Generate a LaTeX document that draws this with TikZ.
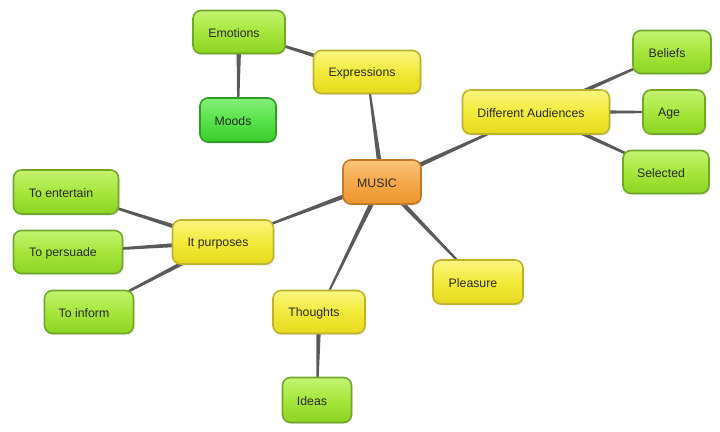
\documentclass[tikz,border=0pt]{standalone}
\usepackage{fontspec}
\setmainfont{Liberation Sans}
\usetikzlibrary{calc,shadows}
\pgfdeclarelayer{bg}
\pgfsetlayers{bg,main}
\definecolor{conncol}{HTML}{5A5A5A}
\definecolor{txtcol}{HTML}{2A2A2A}
\tikzset{
  box/.style={rounded corners=8pt, line width=1.6pt, inner sep=0pt,
    drop shadow={opacity=0.18, shadow xshift=1pt, shadow yshift=-1.5pt}},
  yellowbox/.style={box, draw=ybord, top color=ytop, bottom color=ybot, middle color=ymid},
  greenbox/.style={box, draw=gbord, top color=gtop, bottom color=gbot, middle color=gmid},
  mintbox/.style={box, draw=mbord, top color=mtop, bottom color=mbot, middle color=mmid},
  orangebox/.style={box, draw=obord, top color=otop, bottom color=obot, middle color=omid},
  txt/.style={font=\fontsize{12.3}{14}\selectfont, text=txtcol, inner sep=0pt, xshift=-5pt, yshift=-1.5pt},
  conn/.style={fill=conncol},
}
\definecolor{ytop}{HTML}{FAF680}
\definecolor{ymid}{HTML}{F2EA3A}
\definecolor{ybot}{HTML}{E6DA1C}
\definecolor{ybord}{HTML}{BDB22E}
\definecolor{gtop}{HTML}{C4F472}
\definecolor{gmid}{HTML}{A6E63C}
\definecolor{gbot}{HTML}{8CD422}
\definecolor{gbord}{HTML}{72A82A}
\definecolor{mtop}{HTML}{86F07A}
\definecolor{mmid}{HTML}{58E24A}
\definecolor{mbot}{HTML}{3ACC2C}
\definecolor{mbord}{HTML}{2E9E26}
\definecolor{otop}{HTML}{FAC47C}
\definecolor{omid}{HTML}{F4A84A}
\definecolor{obot}{HTML}{EC962E}
\definecolor{obord}{HTML}{C27A2A}
\newcommand\taper[2]{\fill[conn] ($(#1)!2.6pt!90:(#2)$) -- ($(#2)!0.7pt!-90:(#1)$) -- ($(#2)!0.7pt!90:(#1)$) -- ($(#1)!2.6pt!-90:(#2)$) -- cycle;}
\begin{document}
\begin{tikzpicture}[x=1pt,y=-1pt]
\useasboundingbox (0,0) rectangle (720,431);
% nodes
\node[orangebox, minimum width=78, minimum height=44, label={[txt]center:MUSIC}] (music) at (382,182) {};
\node[yellowbox, minimum width=107, minimum height=43, label={[txt]center:Expressions}] (expr) at (367,72) {};
\node[greenbox, minimum width=92, minimum height=43, label={[txt]center:Emotions}] (emo) at (239,32) {};
\node[mintbox, minimum width=76, minimum height=44, label={[txt]center:Moods}] (moods) at (238,120) {};
\node[yellowbox, minimum width=147, minimum height=44, label={[txt]center:Different Audiences}] (aud) at (536,112) {};
\node[greenbox, minimum width=78, minimum height=43, label={[txt]center:Beliefs}] (beliefs) at (672,52) {};
\node[greenbox, minimum width=62, minimum height=44, label={[txt]center:Age}] (age) at (674,112) {};
\node[greenbox, minimum width=86, minimum height=43, label={[txt]center:Selected}] (sel) at (666,172) {};
\node[yellowbox, minimum width=101, minimum height=44, label={[txt]center:It purposes}] (purp) at (223,242) {};
\node[greenbox, minimum width=105, minimum height=44, label={[txt]center:To entertain}] (ent) at (66,192) {};
\node[greenbox, minimum width=109, minimum height=43, label={[txt]center:To persuade}] (pers) at (68,252) {};
\node[greenbox, minimum width=89, minimum height=43, label={[txt]center:To inform}] (inf) at (89,312) {};
\node[yellowbox, minimum width=92, minimum height=43, label={[txt]center:Thoughts}] (thou) at (319,312) {};
\node[yellowbox, minimum width=90, minimum height=44, label={[txt]center:Pleasure}] (pleas) at (478,282) {};
\node[greenbox, minimum width=69, minimum height=45, label={[txt]center:Ideas}] (ideas) at (317,400) {};
% connectors
\begin{pgfonlayer}{bg}
\fill[white] (0,0) rectangle (720,431);
\taper{music}{expr}
\taper{music}{aud}
\taper{music}{purp}
\taper{music}{thou}
\taper{music}{pleas}
\taper{expr}{emo}
\taper{emo}{moods}
\taper{aud}{beliefs}
\taper{aud}{age}
\taper{aud}{sel}
\taper{purp}{ent}
\taper{purp}{pers}
\taper{purp}{inf}
\taper{thou}{ideas}
\end{pgfonlayer}
\end{tikzpicture}
\end{document}
